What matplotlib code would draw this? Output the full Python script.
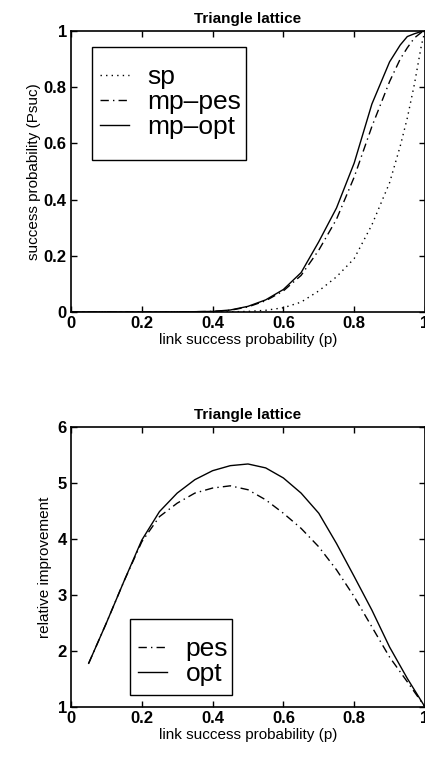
import numpy as np
import matplotlib ; matplotlib.use('Agg')
from matplotlib import pyplot as plt
from matplotlib.patches import Rectangle

plt.rcParams['font.family'] = ['Liberation Sans', 'DejaVu Sans']

# top panel: success probability vs link success probability
p_top = [0.0, 0.1, 0.2, 0.3, 0.4, 0.45, 0.5, 0.55, 0.6, 0.65, 0.7, 0.75, 0.8, 0.85, 0.9, 0.93, 0.95, 0.97, 0.99, 1.0]
sp = [0.0, 0.0, 0.0, 0.0, 0.0, 0.0005, 0.002, 0.006, 0.015, 0.035, 0.075, 0.125, 0.19, 0.31, 0.46, 0.59, 0.69, 0.81, 0.95, 1.0]
mp_pes = [0.0, 0.0, 0.0, 0.0, 0.002, 0.006, 0.018, 0.04, 0.075, 0.13, 0.22, 0.33, 0.48, 0.66, 0.82, 0.9, 0.94, 0.975, 0.995, 1.0]
mp_opt = [0.0, 0.0, 0.0, 0.0, 0.002, 0.007, 0.02, 0.043, 0.08, 0.14, 0.25, 0.37, 0.53, 0.74, 0.89, 0.95, 0.98, 0.99, 0.998, 1.0]

# bottom panel: relative improvement
p_bot = [0.05, 0.1, 0.15, 0.2, 0.25, 0.3, 0.35, 0.4, 0.45, 0.5, 0.55, 0.6, 0.65, 0.7, 0.75, 0.8, 0.85, 0.9, 0.95, 1.0]
pes = [1.78, 2.5, 3.25, 3.95, 4.4, 4.64, 4.82, 4.91, 4.95, 4.88, 4.7, 4.46, 4.19, 3.86, 3.45, 2.97, 2.43, 1.89, 1.45, 1.0]
opt = [1.78, 2.5, 3.25, 3.98, 4.49, 4.82, 5.06, 5.22, 5.31, 5.34, 5.27, 5.09, 4.82, 4.46, 3.92, 3.33, 2.73, 2.07, 1.51, 1.0]

fig = plt.figure(figsize=(4.25, 7.62), dpi=100)
ax1 = fig.add_axes([0.167, 0.5906, 0.833, 0.3688])
ax2 = fig.add_axes([0.167, 0.0722, 0.833, 0.3674])

dashdot = (0, (6, 3, 1, 3))

ax1.plot(p_top, sp, color='k', lw=1.0, ls=(0, (1, 3)), label='sp')
ax1.plot(p_top, mp_pes, color='k', lw=1.0, ls=dashdot, label='mp\u2013pes')
ax1.plot(p_top, mp_opt, color='k', lw=1.0, ls='-', label='mp\u2013opt')
ax1.set_xlim(0, 1)
ax1.set_ylim(0, 1)
ax1.set_xticks([0, 0.2, 0.4, 0.6, 0.8, 1.0])
ax1.set_xticklabels(['0', '0.2', '0.4', '0.6', '0.8', '1'])
ax1.set_yticks([0, 0.2, 0.4, 0.6, 0.8, 1.0])
ax1.set_yticklabels(['0', '0.2', '0.4', '0.6', '0.8', '1'])
ax1.set_xlabel('link success probability (p)', fontsize=11, labelpad=1)
ax1.set_ylabel('success probability (Psuc)', fontsize=11, labelpad=2)
ax1.set_title('Triangle lattice', fontsize=11, fontweight='bold', pad=6)
ax1.legend(loc='upper left', bbox_to_anchor=(0.059, 0.9075), fontsize=19,
           frameon=False, handlelength=1.1, handletextpad=0.7,
           labelspacing=0.05, borderpad=0.3, borderaxespad=0)
# legend box, matlab style (more room top and bottom)
ax1.add_patch(Rectangle((0.0593, 0.541), 0.4351, 0.402, transform=ax1.transAxes,
                        fill=False, edgecolor='k', lw=1.0, zorder=5))

ax2.plot(p_bot, pes, color='k', lw=1.0, ls=dashdot, label='pes')
ax2.plot(p_bot, opt, color='k', lw=1.0, ls='-', label='opt')
ax2.set_xlim(0, 1)
ax2.set_ylim(1, 6)
ax2.set_xticks([0, 0.2, 0.4, 0.6, 0.8, 1.0])
ax2.set_xticklabels(['0', '0.2', '0.4', '0.6', '0.8', '1'])
ax2.set_yticks([1, 2, 3, 4, 5, 6])
ax2.set_xlabel('link success probability (p)', fontsize=11, labelpad=1)
ax2.set_ylabel('relative improvement', fontsize=11, labelpad=4)
ax2.set_title('Triangle lattice', fontsize=11, fontweight='bold', pad=6)
ax2.legend(loc='upper left', bbox_to_anchor=(0.167, 0.279), fontsize=19,
           frameon=False, handlelength=1.1, handletextpad=0.7,
           labelspacing=0.05, borderpad=0.3, borderaxespad=0)
ax2.add_patch(Rectangle((0.1667, 0.043), 0.2883, 0.271, transform=ax2.transAxes,
                        fill=False, edgecolor='k', lw=1.0, zorder=5))

for ax in (ax1, ax2):
    ax.tick_params(direction='in', top=True, right=True, length=4, width=1,
                   labelsize=12, pad=3)
    for lbl in ax.get_xticklabels() + ax.get_yticklabels():
        lbl.set_fontweight('bold')
    for s in ax.spines.values():
        s.set_linewidth(1.2)

plt.savefig('out.png', dpi=100)
